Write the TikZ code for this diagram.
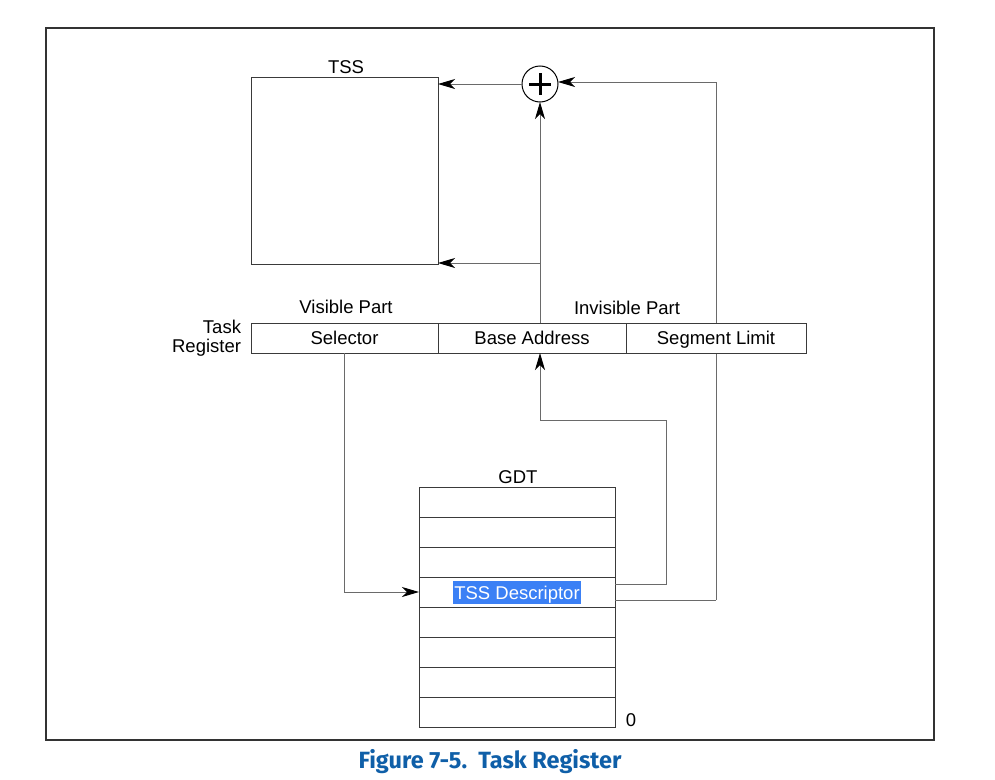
\documentclass[tikz,border=0pt]{standalone}
\usepackage{fontspec}
\setmainfont{Liberation Sans}
\newfontfamily\capfont{Fira Sans}
\usetikzlibrary{arrows.meta}
\definecolor{capblue}{HTML}{0F5FA8}
\definecolor{selblue}{HTML}{3B80F5}
\definecolor{boxline}{HTML}{3A3A3A}
\definecolor{connline}{HTML}{6A6A6A}
\begin{document}
\begin{tikzpicture}[x=1pt,y=-1pt,
  every node/.style={font=\fontsize{18.5}{21}\selectfont, inner sep=0pt, outer sep=0pt},
  cell/.style={draw=boxline, line width=1pt, fill=white, minimum height=30pt, anchor=north west,
               text height=13.5pt, text depth=0.5pt},
  conn/.style={draw=connline, line width=1pt},
  arr/.style={conn, -{Stealth[length=17pt,width=10pt,inset=5pt]}, arrows={[fill=black,color=black]}},
  lbl/.style={text=black, text height=13.5pt, text depth=0.5pt}]
  \useasboundingbox (0,0) rectangle (995,779);
  % outer frame
  \draw[line width=1.2pt, draw=black!80] (46,28) rectangle (934,740);

  % TSS block and adder
  \node[cell, minimum width=187pt, minimum height=187pt] (tss) at (251,77) {};
  \node[lbl] (tsslbl) at (346,67) {TSS};
  \node[draw=black, line width=1pt, circle, minimum size=36pt, fill=white] (plus) at (540,84) {};
  \draw[line width=3pt] ([xshift=-11pt]plus.center) -- ([xshift=11pt]plus.center)
                        ([yshift=-11pt]plus.center) -- ([yshift=11pt]plus.center);

  % global descriptor table
  \node[cell, minimum width=196pt] (g1) at (419,487) {};
  \node[cell, minimum width=196pt] (g2) at (419,517) {};
  \node[cell, minimum width=196pt] (g3) at (419,547) {};
  \node[cell, minimum width=196pt] (desc) at (419,577) {};
  \node[cell, minimum width=196pt] (g5) at (419,607) {};
  \node[cell, minimum width=196pt] (g6) at (419,637) {};
  \node[cell, minimum width=196pt] (g7) at (419,667) {};
  \node[cell, minimum width=196pt] (g8) at (419,697) {};
  \node[lbl] (gdtlbl) at (518,477) {GDT};
  \node[fill=selblue, text=white, inner xsep=1pt, inner ysep=4.5pt, text height=13.5pt, text depth=0.5pt] (desctxt) at ([yshift=-0.5pt]desc.center) {TSS Descriptor};
  \node[lbl] (zero) at (631,720) {0};

  % segment limit feed (runs behind the register)
  \coordinate (limx) at (716,600);
  \draw[conn] ([yshift=-8pt]desc.east) -- (limx);
  \draw[arr] (limx) |- ([yshift=2pt]plus.east);

  % task register
  \node[cell, minimum width=187pt] (sel) at (251,323) {Selector};
  \node[cell, minimum width=188pt] (base) at (438,323) {Base Address};
  \node[cell, minimum width=180pt] (lim) at (626,323) {Segment Limit};
  \node[anchor=east, align=right, font=\fontsize{18.5}{19}\selectfont] (trlbl) at (241,338) {Task\\Register};
  \node[lbl] (vis) at (346,307) {Visible Part};
  \node[lbl] (invis) at (627,308) {Invisible Part};

  % base address to adder and TSS
  \draw[arr] (base.north -| plus) -- (plus.south);
  \draw[arr] (plus.west) -- (tss.east |- plus);
  \draw[arr] ([yshift=1pt]tss.south -| plus) -- ([yshift=1pt]tss.south east);

  % descriptor to base address, selector to descriptor
  \coordinate (bend) at (666,420);
  \draw[arr] ([yshift=8pt]desc.east) -| (bend) -| (base.south -| plus);
  \draw[arr] (sel.south) |- (desc.west);

  % caption
  \node[font=\capfont\bfseries\fontsize{23.5}{27}\selectfont, text=capblue] (cap) at (490,762) {Figure 7-5.\ \ Task Register};
\end{tikzpicture}
\end{document}
